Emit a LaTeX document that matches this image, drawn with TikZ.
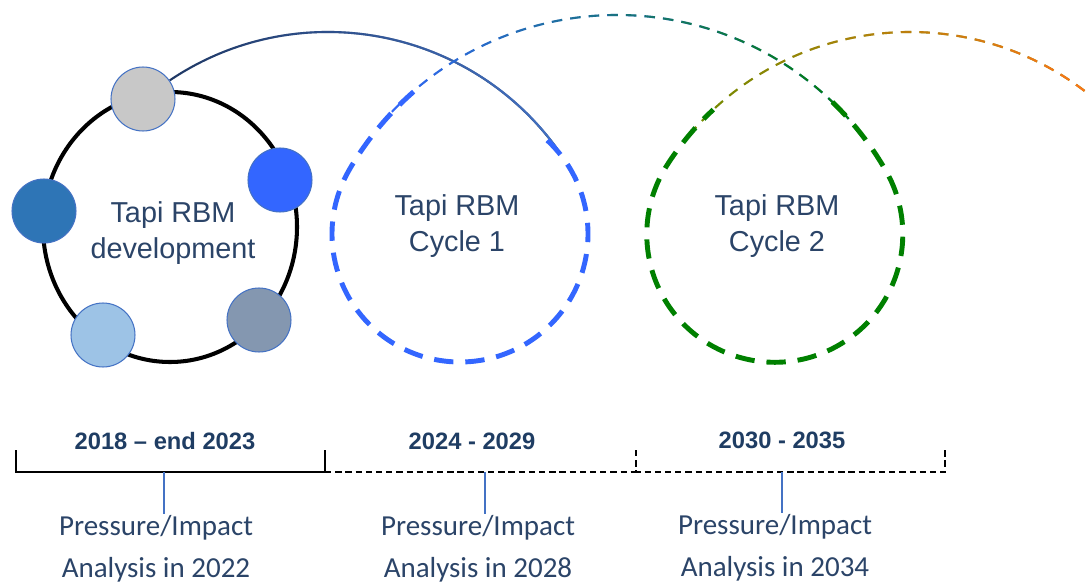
\documentclass[tikz,border=0pt]{standalone}
\usepackage{fontspec}
\setmainfont{Liberation Sans}
\newfontfamily\notefont{Carlito}
\usetikzlibrary{calc,fadings}

\definecolor{navytext}{HTML}{2B4468}
\definecolor{navybold}{HTML}{1F3D63}
\definecolor{linkblue}{HTML}{4472C4}
\definecolor{loopnavy}{HTML}{1F3864}
\definecolor{cycleblue}{HTML}{3366FF}
\definecolor{cyclegreen}{HTML}{008000}
\definecolor{loopolive}{HTML}{6E8B00}
\definecolor{looporange}{HTML}{FF7518}
\definecolor{ballgrey}{HTML}{C8C8C8}
\definecolor{balldark}{HTML}{2E75B6}
\definecolor{balllight}{HTML}{9DC3E6}
\definecolor{ballslate}{HTML}{8497B0}

\tikzfading[name=fade in right, left color=transparent!100, right color=transparent!0]

\begin{document}
\begin{tikzpicture}[
    x=0.02cm, y=0.02cm,
    ball/.style={circle, draw=linkblue, line width=0.6pt, minimum size=1.28cm, inner sep=0pt},
    title/.style={font=\fontsize{16.4}{21}\selectfont, text=navytext, align=center},
    period/.style={font=\fontsize{13.5}{16}\selectfont\bfseries, text=navybold},
    note/.style={font=\notefont\fontsize{16.5}{23.8}\selectfont, text=navytext, align=center, inner sep=1pt},
    bracket/.style={line width=1.4pt},
    openbracket/.style={bracket, dash pattern=on 3.6pt off 2.2pt},
    cyclering/.style={line width=2.8pt, dash pattern=on 11pt off 6.8pt},
    looptrail/.style={line width=1.2pt, dash pattern=on 6pt off 4.6pt},
    link/.style={linkblue, line width=0.8pt}
]
    \useasboundingbox (0,0) rectangle (1089,586);

    % centres of the rings and of the loops between them
    \coordinate (dev) at (170,359);
    \coordinate (r1) at (460,352);
    \coordinate (r2) at (775,352);
    \coordinate (g0) at (328,271);
    \coordinate (l1) at (617,261);
    \coordinate (l2) at (910,266);

    % Development ring
    \draw[loopnavy, line width=1.2pt] ($(g0)+(124:283)$) arc[start angle=124, end angle=36, radius=283];
    \draw[linkblue, line width=1.2pt, path fading=fade in right] ($(g0)+(124:283)$) arc[start angle=124, end angle=36, radius=283];
    \draw[line width=2.3pt] (dev) ellipse[x radius=127, y radius=135];
    \foreach \nm/\px/\py/\col in {top/143/487/ballgrey, east/280/406/cycleblue, west/44/375/balldark,
                                   sw/103/251/balllight, se/259/266/ballslate}
        \node[ball, fill=\col] (\nm) at (\px,\py) {};
    \node[title] (devtext) at (173,353) {Tapi RBM\\development};

    % Cycle 1
    \draw[looptrail, cycleblue] ($(l1)+(140:310)$) arc[start angle=140, end angle=40, radius=310];
    \draw[looptrail, cyclegreen, path fading=fade in right] ($(l1)+(140:310)$) arc[start angle=140, end angle=40, radius=310];
    \draw[cyclering, cycleblue] ($(r1)+(47:128)$) arc[start angle=47, end angle=-210.1, radius=128]
        arc[start angle=149.9, end angle=130, radius=310];
    \node[title] (c1text) at (457,360) {Tapi RBM\\Cycle 1};

    % Cycle 2
    \draw[looptrail, loopolive] ($(l2)+(140:288)$) arc[start angle=140, end angle=52, radius=288];
    \draw[looptrail, looporange, path fading=fade in right] ($(l2)+(140:288)$) arc[start angle=140, end angle=52, radius=288];
    \draw[cyclering, cyclegreen] ($(l1)+(46:310)$) arc[start angle=46, end angle=29.9, radius=310]
        arc[start angle=29.9, end angle=-212.5, radius=128]
        arc[start angle=147.5, end angle=133, radius=288];
    \node[title] (c2text) at (777,360) {Tapi RBM\\Cycle 2};

    % Time line
    \draw[bracket] (16,136) -- (16,114) -- (325,114) -- (325,136);
    \draw[openbracket] (325,114) -- (636,114);
    \draw[openbracket] (636,136) -- (636,114) -- (945,114) -- (945,136);
    \node[period] (y1) at (165,145) {2018 – end 2023};
    \node[period] (y2) at (472,145) {2024 - 2029};
    \node[period] (y3) at (782,146) {2030 - 2035};

    \coordinate (t1) at (164,114);
    \coordinate (t2) at (485,114);
    \coordinate (t3) at (782,114);
    \node[note] (p1) at (156,37) {Pressure/Impact\\Analysis in 2022};
    \node[note] (p2) at (478,37) {Pressure/Impact\\Analysis in 2028};
    \node[note] (p3) at (775,38) {Pressure/Impact\\Analysis in 2034};
    \foreach \i in {1,2,3}
        \draw[link] (t\i) -- (t\i |- p\i.north);
\end{tikzpicture}
\end{document}
